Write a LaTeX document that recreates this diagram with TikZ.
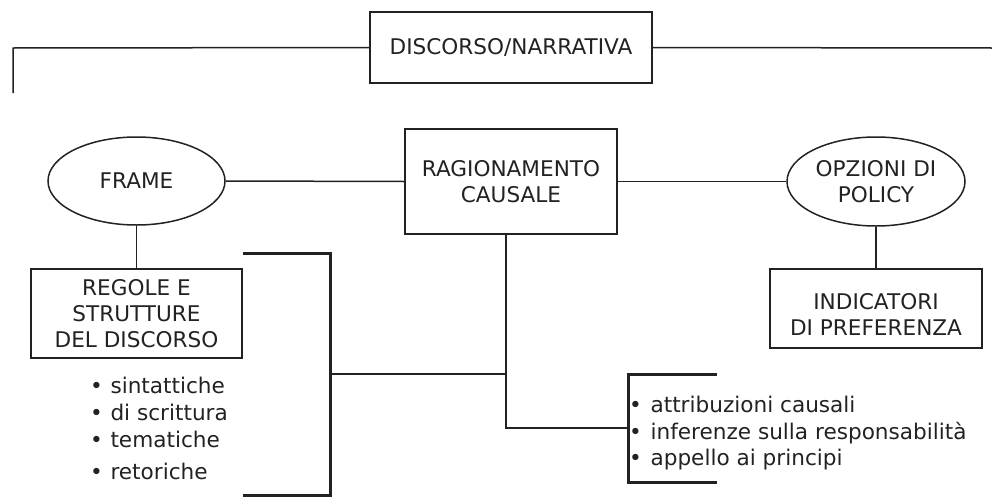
\documentclass[tikz,border=0pt]{standalone}
\usepackage{fontspec}
\setmainfont{DejaVu Sans}
\usetikzlibrary{shapes.geometric}
\definecolor{ink}{HTML}{222222}
\begin{document}
\begin{tikzpicture}[x=1pt,y=1pt,
  every node/.style={font=\fontsize{21.6}{26}\selectfont, text=ink},
  boxnode/.style={draw=ink, line width=1.5pt, rectangle, align=center, inner sep=0pt},
  ellnode/.style={draw=ink, line width=1.5pt, ellipse, align=center, inner sep=0pt},
  link/.style={draw=ink, line width=1.5pt},
  brack/.style={draw=ink, line width=3pt},
  item/.style={anchor=base west, inner sep=0pt}
]
\useasboundingbox (0,0) rectangle (992,-498);

% nodes
\node[boxnode, minimum width=282, minimum height=71] (disc) at (511,-47.5) {DISCORSO/NARRATIVA};
\node[ellnode, minimum width=177, minimum height=88] (frame) at (136.5,-181) {FRAME};
\node[boxnode, minimum width=212, minimum height=105] (rag) at (511,-181.5) {RAGIONAMENTO\\CAUSALE};
\node[ellnode, minimum width=178, minimum height=89] (opz) at (876,-181.5) {OPZIONI DI\\POLICY};
\node[boxnode, minimum width=211, minimum height=89] (reg) at (136.5,-313.5) {REGOLE E\\STRUTTURE\\DEL DISCORSO};
\node[boxnode, minimum width=212, minimum height=79] (ind) at (876,-308.5) {};
\node[align=center, inner sep=0pt] (indtxt) at (876,-314.5) {INDICATORI\\DI PREFERENZA};

% coordinates
\coordinate (tl) at (13,-93);
\coordinate (tlc) at (13,-48);
\coordinate (tr) at (992,-48);
\coordinate (b1a) at (243,-253);
\coordinate (b1b) at (330,-253);
\coordinate (b1c) at (330,-495);
\coordinate (b1d) at (243,-495);
\coordinate (b1m) at (330,-374);
\coordinate (rs) at (506,-234);
\coordinate (rj) at (506,-374);
\coordinate (rk) at (506,-428);
\coordinate (b2m) at (628,-428);
\coordinate (b2a) at (717,-374);
\coordinate (b2b) at (628,-374);
\coordinate (b2c) at (628,-482);
\coordinate (b2d) at (717,-482);

% connectors
\draw[link] (tl) -- (tlc) -- (disc.west);
\draw[link] (disc.east) -- (tr);
\draw[link] (frame.east) -- (rag.west);
\draw[link] (rag.east) -- (opz.west);
\draw[link] (frame.south) -- (reg.north);
\draw[link] (opz.south) -- (ind.north);
\draw[brack] (b1a) -- (b1b) -- (b1c) -- (b1d);
\draw[link] (b1m) -- (rj);
\draw[link] (rs) -- (rk) -- (b2m);
\draw[brack] (b2a) -- (b2b) -- (b2c) -- (b2d);

% bullet lists
\node[item] (l1) at (90,-393) {•\hspace{0.35em}sintattiche};
\node[item] (l2) at (90,-420) {•\hspace{0.35em}di scrittura};
\node[item] (l3) at (90,-447) {•\hspace{0.35em}tematiche};
\node[item] (l4) at (90,-479) {•\hspace{0.35em}retoriche};
\node[item] (r1) at (629,-412) {•\hspace{0.4em}attribuzioni causali};
\node[item] (r2) at (629,-439) {•\hspace{0.4em}inferenze sulla responsabilità};
\node[item] (r3) at (629,-465) {•\hspace{0.4em}appello ai principi};
\end{tikzpicture}
\end{document}
